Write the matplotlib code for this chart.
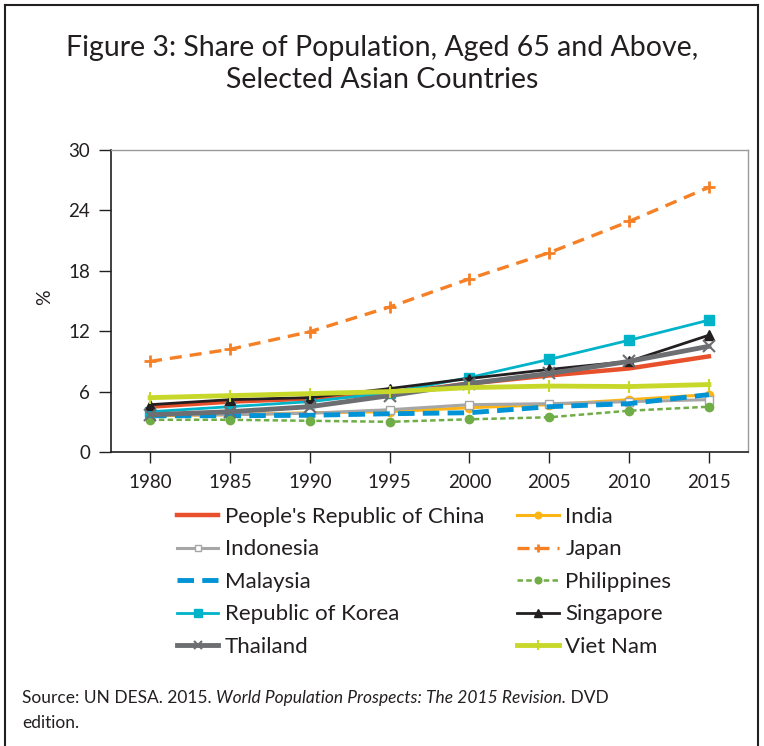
import matplotlib
matplotlib.use("Agg")
import matplotlib.pyplot as plt
from matplotlib.lines import Line2D

years = ["1980", "1985", "1990", "1995", "2000", "2005", "2010", "2015"]
china = [4.5, 5.0, 5.3, 5.8, 6.8, 7.6, 8.3, 9.5]
india = [3.6, 3.7, 3.9, 4.0, 4.4, 4.7, 5.2, 5.7]
indonesia = [3.7, 3.7, 3.85, 4.2, 4.7, 4.8, 5.0, 5.2]
japan = [9.0, 10.2, 11.95, 14.4, 17.2, 19.8, 22.9, 26.3]
malaysia = [3.6, 3.6, 3.65, 3.8, 3.9, 4.5, 4.8, 5.7]
philippines = [3.2, 3.2, 3.1, 3.0, 3.25, 3.45, 4.1, 4.5]
korea = [4.0, 4.5, 5.0, 5.9, 7.4, 9.2, 11.1, 13.1]
singapore = [4.7, 5.2, 5.4, 6.3, 7.3, 8.2, 9.0, 11.6]
thailand = [3.7, 4.0, 4.5, 5.6, 6.8, 7.8, 9.0, 10.5]
vietnam = [5.4, 5.6, 5.8, 6.0, 6.4, 6.55, 6.5, 6.7]
y_ticks = [0, 6, 12, 18, 24, 30]
y_ticklabels = ["0", "6", "12", "18", "24", "30"]

FONT = "Lato"
plt.rcParams["font.family"] = [FONT, "DejaVu Sans"]

W, H = 764, 746
fig = plt.figure(figsize=(W / 100, H / 100), dpi=100)
ax = fig.add_axes([111 / W, 1 - 452 / H, (748 - 111) / W, (452 - 150) / H])

x = list(range(len(years)))

series = [
    ("People's Republic of China", china, dict(color="#E8502B", lw=3.2, ls="-", marker=None)),
    ("India", india, dict(color="#FDB515", lw=2.2, ls="-", marker="o", ms=6)),
    ("Indonesia", indonesia, dict(color="#A6A6A6", lw=2.2, ls="-", marker="s", ms=6, mfc="white", mec="#A6A6A6")),
    ("Japan", japan, dict(color="#F58025", lw=2.4, ls=(0, (3.6, 2.4)), marker="+", ms=8, mew=2)),
    ("Malaysia", malaysia, dict(color="#0093D5", lw=3.5, ls=(0, (3.4, 1.7)), marker=None)),
    ("Philippines", philippines, dict(color="#70AD47", lw=1.8, ls=(0, (2.2, 1.3)), marker="o", ms=6)),
    ("Republic of Korea", korea, dict(color="#00B3C8", lw=2.0, ls="-", marker="s", ms=7)),
    ("Singapore", singapore, dict(color="#231F20", lw=2.0, ls="-", marker="^", ms=7)),
    ("Thailand", thailand, dict(color="#6D6E71", lw=3.5, ls="-", marker="x", ms=8, mew=1.5)),
    ("Viet Nam", vietnam, dict(color="#C8D82A", lw=3.5, ls="-", marker="|", ms=9, mew=1.5)),
]

handles = {}
for name, vals, st in series:
    st = dict(st)
    ln, = ax.plot(x, vals, label=name, color=st.pop("color"), linewidth=st.pop("lw"),
                  linestyle=st.pop("ls"), marker=st.pop("marker"), **st)
    handles[name] = ln

ax.set_xlim(-0.49, 7.49)
ax.set_ylim(0, 30)
ax.set_xticks(x)
ax.set_xticklabels(years)
ax.set_yticks(y_ticks)
ax.set_yticklabels(y_ticklabels)
ax.tick_params(axis="y", direction="out", length=9, width=1, labelsize=13.5, pad=6, colors="#231F20")
ax.tick_params(axis="x", direction="out", length=8, width=1, labelsize=13.5, pad=8, colors="#231F20")
for s in ["left", "bottom"]:
    ax.spines[s].set_color("#231F20")
    ax.spines[s].set_linewidth(1.2)
for s in ["top", "right"]:
    ax.spines[s].set_color("#9A9A9A")
    ax.spines[s].set_linewidth(1.0)

fig.text(45 / W, 1 - 297 / H, "%", rotation=90, ha="center", va="center", fontsize=14, color="#231F20")

fig.text(0.5, 1 - 48 / H, "Figure 3: Share of Population, Aged 65 and Above,", ha="center", va="center",
         fontsize=20.5, color="#231F20")
fig.text(0.5, 1 - 80 / H, "Selected Asian Countries", ha="center", va="center", fontsize=20.5, color="#231F20")

# legend: matplotlib fills columns first, reference reads row by row
col1 = ["People's Republic of China", "Indonesia", "Malaysia", "Republic of Korea", "Thailand"]
col2 = ["India", "Japan", "Philippines", "Singapore", "Viet Nam"]
order = col1 + col2
leg = fig.legend(handles=[handles[n] for n in order], labels=order, loc="upper left",
                 bbox_to_anchor=(177 / W, 1 - 507 / H), ncol=2, markerscale=0.8,
                 frameon=False, fontsize=16, handlelength=1.85, handletextpad=0.3, columnspacing=1.5,
                 labelspacing=0.56, borderaxespad=0, borderpad=0)
for t in leg.get_texts():
    t.set_color("#231F20")

src = fig.text(22 / W, 1 - 698 / H, "Source: UN DESA. 2015. ", ha="left", va="center", fontsize=12.5,
               color="#231F20")
fig.canvas.draw()
r = fig.canvas.get_renderer()
bb = src.get_window_extent(r)
t2 = fig.text(bb.x1 / W, 1 - 698 / H, "World Population Prospects: The 2015 Revision.", ha="left", va="center",
              fontsize=12.5, style="italic", color="#231F20")
bb2 = t2.get_window_extent(r)
fig.text(bb2.x1 / W, 1 - 698 / H, " DVD", ha="left", va="center", fontsize=12.5, color="#231F20")
fig.text(22 / W, 1 - 723 / H, "edition.", ha="left", va="center", fontsize=12.5, color="#231F20")

for (xs, ys) in [([5, 5], [746, 5]), ([5, 758], [5, 5]), ([758, 758], [5, 746])]:
    fig.add_artist(Line2D([v / W for v in xs], [1 - v / H for v in ys], color="#231F20", lw=1.5))

fig.savefig("out.png", dpi=100)
